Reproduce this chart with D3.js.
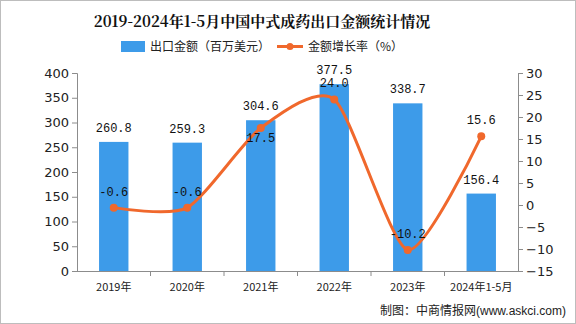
<!DOCTYPE html>
<html><head><meta charset="utf-8">
<script src="https://cdn.jsdelivr.net/npm/d3@7"></script>
<style>body{margin:0;background:#fff;}svg{display:block;}</style>
</head><body>
<svg id="c" width="576" height="324"></svg>
<script>
const categories = ["2019年","2020年","2021年","2022年","2023年","2024年1-5月"];
const exportValue = [260.8, 259.3, 304.6, 377.5, 338.7, 156.4];
const growthRate = [-0.6, -0.6, 17.5, 24.0, -10.2, 15.6];
const leftTicks = [0,50,100,150,200,250,300,350,400];
const rightTicks = [-15,-10,-5,0,5,10,15,20,25,30];

const svg = d3.select("#c");
const W = 576, H = 324;
const m = {l:77, r:518, t:73, b:271};
const barColor = "#3d9be9", lineColor = "#f0682c", axisColor = "#8c8c8c";
const cjk = "'Noto Sans CJK SC', 'Noto Sans', sans-serif";
const mono = "'Liberation Mono','DejaVu Sans Mono',monospace";

svg.append("rect").attr("x",0.5).attr("y",0.5).attr("width",W-1).attr("height",H-1)
  .attr("fill","#fff").attr("stroke","#bdbdbd");

const x = d3.scaleBand().domain(categories).range([m.l, m.r]).paddingInner(0.6).paddingOuter(0.3);
const xb = d3.scaleBand().domain(categories).range([m.l, m.r]);
const yL = d3.scaleLinear().domain([0,400]).range([m.b, m.t]);
const yR = d3.scaleLinear().domain([-15,30]).range([m.b, m.t]);

// title
svg.append("text").attr("x",262).attr("y",27).attr("text-anchor","middle")
  .style("font-family","'Noto Serif CJK SC','Noto Sans CJK SC',serif").style("font-weight","bold").style("font-size","15px")
  .attr("fill","#111").text("2019-2024年1-5月中国中式成药出口金额统计情况");

// legend
const lg = svg.append("g");
lg.append("rect").attr("x",121).attr("y",41).attr("width",24).attr("height",11).attr("fill",barColor);
lg.append("text").attr("x",150).attr("y",51).style("font-family",cjk).style("font-size",12).attr("fill","#222").text("出口金额（百万美元）");
lg.append("line").attr("x1",277).attr("x2",303).attr("y1",46.5).attr("y2",46.5).attr("stroke",lineColor).attr("stroke-width",3);
lg.append("circle").attr("cx",290).attr("cy",46.5).attr("r",3.5).attr("fill",lineColor);
lg.append("text").attr("x",308).attr("y",51).style("font-family",cjk).style("font-size",12).attr("fill","#222").text("金额增长率（%）");

// axes
const axL = svg.append("g").attr("transform",`translate(${m.l},0)`)
  .call(d3.axisLeft(yL).tickValues(leftTicks).tickSize(5).tickPadding(3));
const axR = svg.append("g").attr("transform",`translate(${m.r},0)`)
  .call(d3.axisRight(yR).tickValues(rightTicks).tickSize(5).tickPadding(3));
const axX = svg.append("g").attr("transform",`translate(0,${m.b})`)
  .call(d3.axisBottom(xb).tickSize(0).tickPadding(12));
[axL,axR,axX].forEach(a=>{
  a.selectAll("path,line").attr("stroke",axisColor);
  a.selectAll("text").attr("fill","#222").style("font-family","'DejaVu Sans',sans-serif");
});
axL.selectAll("text").style("font-size","13px");
axR.selectAll("text").style("font-size","13px");
axX.selectAll("text").style("font-size","11px").style("font-family",cjk);
axX.select(".domain").remove();
svg.append("line").attr("x1",m.l-5).attr("x2",m.r+5).attr("y1",m.b+0.5).attr("y2",m.b+0.5).attr("stroke",axisColor);
// x band boundary ticks
svg.selectAll(".xt").data(categories.slice(1)).enter().append("line")
  .attr("x1",d=>xb(d)).attr("x2",d=>xb(d)).attr("y1",m.b).attr("y2",m.b+5).attr("stroke",axisColor);

// bars
svg.selectAll(".bar").data(categories).enter().append("rect")
  .attr("x",d=>x(d)).attr("width",x.bandwidth())
  .attr("y",(d,i)=>yL(exportValue[i])).attr("height",(d,i)=>m.b-yL(exportValue[i]))
  .attr("fill",barColor);
svg.selectAll(".bl").data(categories).enter().append("text")
  .attr("x",d=>x(d)+x.bandwidth()/2).attr("y",(d,i)=>yL(exportValue[i])-10)
  .attr("text-anchor","middle").style("font-family",mono).style("font-size","12px").attr("fill","#111")
  .text((d,i)=>exportValue[i].toFixed(1));

// line
const cx = d=>xb(d)+xb.bandwidth()/2;
const line = d3.line().x(d=>cx(d)).y((d,i)=>yR(growthRate[i])).curve(d3.curveCardinal.tension(0.3));
svg.append("path").datum(categories).attr("d",line).attr("fill","none").attr("stroke",lineColor).attr("stroke-width",3);
svg.selectAll(".pt").data(categories).enter().append("circle")
  .attr("cx",cx).attr("cy",(d,i)=>yR(growthRate[i])).attr("r",4).attr("fill",lineColor);
svg.selectAll(".pl").data(categories).enter().append("text")
  .attr("x",cx).attr("y",(d,i)=> i===2 ? yR(growthRate[i])+14 : yR(growthRate[i])-12)
  .attr("text-anchor","middle").style("font-family",mono).style("font-size","12px").attr("fill","#111")
  .text((d,i)=>growthRate[i].toFixed(1));

// footer
const ft = svg.append("text").attr("x",566).attr("y",315).attr("text-anchor","end").attr("fill","#222");
ft.append("tspan").style("font-family",cjk).style("font-size","12px").text("制图：中商情报网");
ft.append("tspan").style("font-family","'Liberation Sans',sans-serif").style("font-size","12px").text("(www.askci.com)");
</script>
</body></html>
